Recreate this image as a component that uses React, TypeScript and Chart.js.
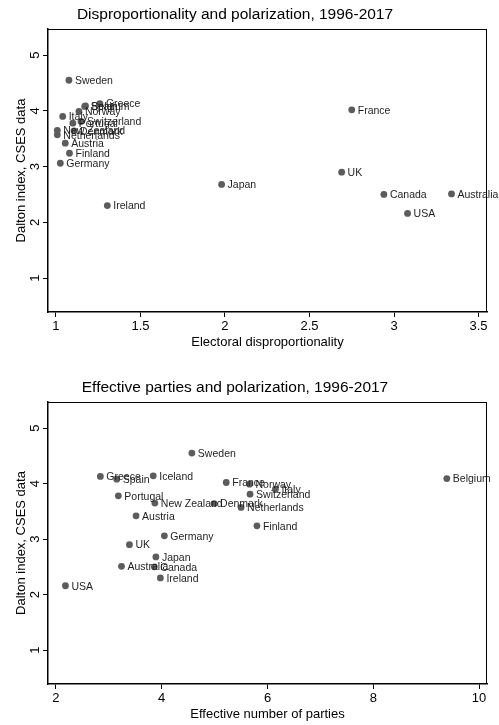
import React, { useEffect, useRef } from "react";
import { Chart, registerables } from "chart.js";

Chart.register(...registerables);

// Country order shared by all series
const countries = [
  "Sweden", "Greece", "Spain", "Belgium", "Iceland", "Norway", "Italy",
  "Switzerland", "Portugal", "New Zealand", "Denmark", "Netherlands",
  "Austria", "Finland", "Germany", "Ireland", "Japan", "France", "UK",
  "Canada", "Australia", "USA",
];

// Dalton polarization index (CSES data)
const dalton = [
  4.55, 4.13, 4.08, 4.09, 4.14, 3.99, 3.9,
  3.81, 3.78, 3.65, 3.64, 3.57,
  3.42, 3.24, 3.06, 2.3, 2.68, 4.02, 2.9,
  2.5, 2.51, 2.16,
];

// Electoral disproportionality (no value for Iceland)
const disproportionality = [
  1.077, 1.26, 1.17, 1.175, null, 1.136, 1.04,
  1.148, 1.1, 1.008, 1.107, 1.008,
  1.055, 1.08, 1.026, 1.304, 1.98, 2.75, 2.69,
  2.94, 3.34, 3.08,
];

// Effective number of parties
const effectiveParties = [
  4.57, 2.84, 3.15, 9.39, 3.84, 5.66, 6.15,
  5.67, 3.18, 3.87, 4.99, 5.5,
  3.515, 5.8, 4.05, 3.975, 3.89, 5.22, 3.39,
  3.86, 3.24, 2.18,
];

const daltonTicks = [1, 2, 3, 4, 5];
const disproTicks = [1, 1.5, 2, 2.5, 3, 3.5];
const partyTicks = [2, 4, 6, 8, 10];

const FONT = '"Liberation Sans", Arial, Helvetica, sans-serif';
const W = 499;

type PanelProps = {
  title: string;
  xTitle: string;
  xValues: (number | null)[];
  xTicks: number[];
  xMin: number;
  xMax: number;
  height: number;
  plotTop: number;
  plotBottom: number;
};

function ScatterPanel(props: PanelProps) {
  const ref = useRef<HTMLCanvasElement | null>(null);

  useEffect(() => {
    const { title, xTitle, xValues, xTicks, xMin, xMax, height, plotTop, plotBottom } = props;
    const canvas = ref.current;
    if (!canvas) return;

    const decorations = {
      id: "decorations",
      afterDatasetsDraw(chart: any) {
        const ctx = chart.ctx;
        const meta = chart.getDatasetMeta(0);
        ctx.save();
        ctx.font = `10.5px ${FONT}`;
        ctx.fillStyle = "#1e1e1e";
        ctx.textAlign = "left";
        ctx.textBaseline = "alphabetic";
        meta.data.forEach((el: any, i: number) => {
          if (el.skip || xValues[i] == null || !isFinite(el.x) || !isFinite(el.y)) return;
          ctx.fillText(countries[i], el.x + 6, el.y + 3.8);
        });
        ctx.restore();
      },
      afterDraw(chart: any) {
        const ctx = chart.ctx;
        const area = chart.chartArea;
        const yScale = chart.scales.y;
        ctx.save();

        // frame: top and right edges of the plot region
        ctx.strokeStyle = "#000";
        ctx.lineWidth = 1;
        ctx.beginPath();
        ctx.moveTo(area.left, Math.round(area.top) + 0.5);
        ctx.lineTo(area.right, Math.round(area.top) + 0.5);
        ctx.moveTo(Math.round(area.right) - 0.5, area.top);
        ctx.lineTo(Math.round(area.right) - 0.5, area.bottom);
        ctx.stroke();

        // rotated y tick labels
        ctx.fillStyle = "#000";
        ctx.font = `13px ${FONT}`;
        ctx.textAlign = "center";
        ctx.textBaseline = "alphabetic";
        daltonTicks.forEach((v) => {
          const py = yScale.getPixelForValue(v);
          ctx.save();
          ctx.translate(area.left - 9.5, py);
          ctx.rotate(-Math.PI / 2);
          ctx.fillText(String(v), 0, 0);
          ctx.restore();
        });

        // y axis title
        ctx.save();
        ctx.translate(25, (area.top + area.bottom) / 2);
        ctx.rotate(-Math.PI / 2);
        ctx.fillText("Dalton index, CSES data", 0, 0);
        ctx.restore();

        // x axis title
        ctx.fillText(xTitle, (area.left + area.right) / 2, area.bottom + 33.5);

        // panel title
        ctx.font = `15.5px ${FONT}`;
        ctx.fillText(title, 235, area.top - 10);
        ctx.restore();
      },
    };

    const points = countries.map((_, i) => ({ x: xValues[i], y: dalton[i] }));

    const chart = new Chart(canvas, {
      type: "scatter",
      data: {
        datasets: [
          {
            data: points,
            pointRadius: 3.4,
            pointHoverRadius: 3.4,
            backgroundColor: "#5c5c5c",
            borderWidth: 0,
          },
        ],
      },
      options: {
        animation: false,
        responsive: false,
        devicePixelRatio: 1,
        events: [],
        layout: { padding: { top: plotTop, right: 12, left: 0, bottom: 0 } },
        plugins: {
          legend: { display: false },
          tooltip: { enabled: false },
          title: { display: false },
        },
        scales: {
          x: {
            type: "linear",
            min: xMin,
            max: xMax,
            afterBuildTicks: (s: any) => {
              s.ticks = xTicks.map((v) => ({ value: v }));
            },
            afterFit: (s: any) => {
              s.height = height - plotBottom;
            },
            grid: {
              drawOnChartArea: false,
              drawTicks: true,
              tickLength: 5,
              color: "#000",
              lineWidth: 1,
            },
            border: { color: "#000", width: 1.5 },
            ticks: {
              font: { family: FONT, size: 13 },
              color: "#000",
              padding: 2,
              maxRotation: 0,
              autoSkip: false,
              callback: (v: any) => String(v),
            },
          },
          y: {
            type: "linear",
            min: 0.39,
            max: 5.47,
            afterBuildTicks: (s: any) => {
              s.ticks = daltonTicks.map((v) => ({ value: v }));
            },
            afterFit: (s: any) => {
              s.width = 48;
            },
            grid: {
              drawOnChartArea: false,
              drawTicks: true,
              tickLength: 5,
              color: "#000",
              lineWidth: 1,
            },
            border: { color: "#000", width: 1.5 },
            ticks: { display: false },
          },
        },
      },
      plugins: [decorations],
    } as any);

    return () => chart.destroy();
  }, []);

  return (
    <canvas
      ref={ref}
      width={W}
      height={props.height}
      style={{ display: "block", width: W, height: props.height }}
    />
  );
}

export default function App() {
  return (
    <div style={{ position: "absolute", left: 0, top: 0, width: W, height: 725, background: "#fff" }}>
      <ScatterPanel
        title="Disproportionality and polarization, 1996-2017"
        xTitle="Electoral disproportionality"
        xValues={disproportionality}
        xTicks={disproTicks}
        xMin={0.953}
        xMax={3.55}
        height={362}
        plotTop={29}
        plotBottom={312}
      />
      <ScatterPanel
        title="Effective parties and polarization, 1996-2017"
        xTitle="Effective number of parties"
        xValues={effectiveParties}
        xTicks={partyTicks}
        xMin={1.85}
        xMax={10.15}
        height={363}
        plotTop={40}
        plotBottom={322}
      />
    </div>
  );
}
